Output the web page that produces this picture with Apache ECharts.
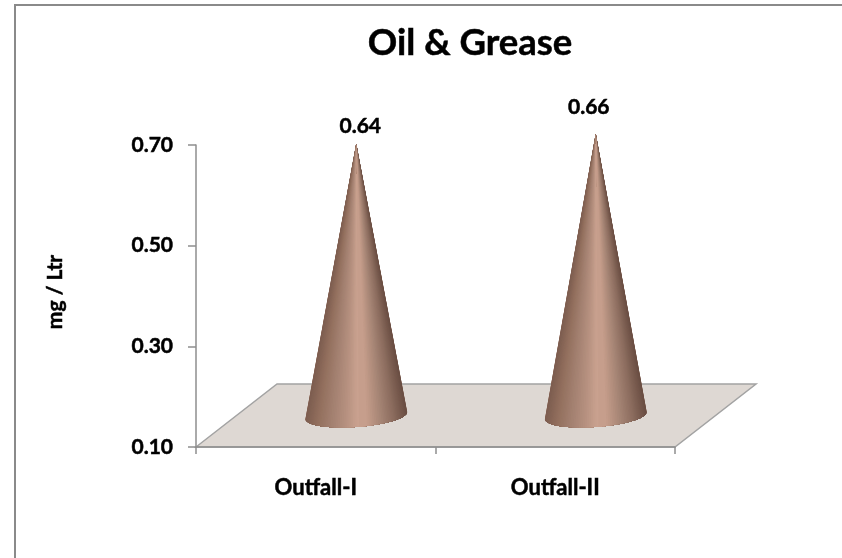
<!DOCTYPE html>
<html>
<head>
<meta charset="utf-8">
<title>Oil & Grease</title>
<style>
    html, body { margin: 0; padding: 0; background: #fff; }
    #chart { width: 842px; height: 558px; }
</style>
<script src="https://cdn.jsdelivr.net/npm/echarts@6/dist/echarts.min.js"></script>
</head>
<body>
<div id="chart"></div>
<script>
// Chart data
const categories = ['Outfall-I', 'Outfall-II'];
const values = [0.64, 0.66];
const yMin = 0.1;
const yMax = 0.7;
const yStep = 0.2;

// Fake 3D look: the floor runs back by (depthX, depthY), bars stand halfway along it
const depthX = 81;
const depthY = -63;
const coneRx = 51;
const coneRy = 11.5;
const coneTilt = -4.1 * Math.PI / 180;
const labelShift = [[4, -17], [-7, -26]];
const fontFamily = 'Lato, Carlito, "Open Sans", sans-serif';
const axisColor = '#8e8e8e';

// Left to right shading across the cone
const shadeStops = ['#7d5d50', '#94715f', '#a38171', '#b48f7e', '#c9a18f', '#c39b89', '#a68575', '#8b6c5e', '#6a4e43'];
const highlightAt = 0.55;

const renderFloor = (params, api) => {
    const box = params.coordSys;
    const bottom = box.y + box.height;
    return {
        type: 'polygon',
        shape: {
            points: [
                [box.x, bottom],
                [box.x + depthX, bottom + depthY],
                [box.x + box.width + depthX, bottom + depthY],
                [box.x + box.width, bottom]
            ]
        },
        style: { fill: '#ded8d3', stroke: '#a3a3a3', lineWidth: 1.5 },
        silent: true
    };
};

const renderCone = (params, api) => {
    const index = api.value(0);
    const base = api.coord([index, yMin]);
    const top = api.coord([index, api.value(1)]);
    const cx = base[0] + depthX / 2;
    const cy = base[1] + depthY / 2;
    const tip = [cx, top[1] + depthY / 2];
    const cosT = Math.cos(coneTilt);
    const sinT = Math.sin(coneTilt);

    // Front rim of the base, left to right
    const steps = 80;
    const rim = [];
    for (let i = 0; i <= steps; i++) {
        const a = Math.PI - Math.PI * i / steps;
        const ex = coneRx * Math.cos(a);
        const ey = coneRy * Math.sin(a);
        rim.push([cx + ex * cosT - ey * sinT, cy + ex * sinT + ey * cosT]);
    }
    const shadeAt = (point) => {
        const t = (point[0] - (cx - coneRx)) / (2 * coneRx);
        return echarts.color.lerp(Math.min(1, Math.max(0, t)), shadeStops);
    };
    let h = 0;
    while (h < steps && (rim[h][0] - (cx - coneRx)) / (2 * coneRx) < highlightAt) h++;

    // Painted from both edges in to the highlight, so the slices leave no seams
    const children = [];
    const addSlice = (from, to, color) => {
        children.push({
            type: 'polygon',
            shape: { points: [tip].concat(rim.slice(from, to + 1)) },
            style: { fill: color },
            silent: true
        });
    };
    addSlice(0, steps, shadeAt(rim[h]));
    for (let i = 0; i < h - 1; i++) addSlice(i, h, shadeAt(rim[i]));
    for (let j = steps; j > h + 1; j--) addSlice(h, j, shadeAt(rim[j]));
    // Last wedge hides the edge where all the slices meet
    addSlice(h - 2, h + 2, shadeAt(rim[h]));

    const shift = labelShift[index];
    children.push({
        type: 'text',
        style: {
            text: api.value(1).toFixed(2),
            x: tip[0] + shift[0],
            y: tip[1] + shift[1],
            align: 'center',
            verticalAlign: 'middle',
            fill: '#000',
            stroke: '#000',
            lineWidth: 0.5,
            font: 'bold 21px ' + fontFamily
        },
        silent: true
    });
    return { type: 'group', children: children };
};

const chart = echarts.init(document.getElementById('chart'));

chart.setOption({
    animation: false,
    backgroundColor: '#fff',
    title: {
        text: 'Oil & Grease',
        left: 465,
        top: 20,
        textAlign: 'center',
        textStyle: {
            fontFamily: fontFamily, fontSize: 36.5, fontWeight: 'bold', color: '#000',
            textBorderColor: '#000', textBorderWidth: 0.5
        }
    },
    graphic: [
        {
            type: 'polyline',
            shape: { points: [[15, 558], [15, 5], [842, 5]] },
            style: { fill: null, stroke: '#8a8a8a', lineWidth: 2 },
            silent: true
        },
        {
            // y axis title
            type: 'text',
            x: 55,
            y: 292,
            rotation: Math.PI / 2,
            style: {
                text: 'mg / Ltr',
                align: 'center',
                verticalAlign: 'middle',
                fill: '#000',
                stroke: '#000',
                lineWidth: 0.5,
                font: 'bold 21px ' + fontFamily
            },
            silent: true
        }
    ],
    grid: { left: 196, right: 167, top: 145, bottom: 111 },
    xAxis: {
        type: 'category',
        data: categories,
        z: 3,
        axisLine: { lineStyle: { color: axisColor, width: 1.5 } },
        axisTick: { show: true, alignWithLabel: false, length: 7, lineStyle: { color: axisColor, width: 1.5 } },
        axisLabel: {
            margin: 30, color: '#000', fontFamily: fontFamily, fontSize: 22, fontWeight: 'bold',
            textBorderColor: '#000', textBorderWidth: 0.5
        }
    },
    yAxis: {
        type: 'value',
        min: yMin,
        max: yMax,
        interval: yStep,
        z: 3,
        splitLine: { show: false },
        axisLine: { show: true, lineStyle: { color: axisColor, width: 1.5 } },
        axisTick: { show: true, length: 8, lineStyle: { color: axisColor, width: 1.5 } },
        axisLabel: {
            margin: 23,
            color: '#000',
            fontFamily: fontFamily,
            fontSize: 21,
            fontWeight: 'bold',
            textBorderColor: '#000',
            textBorderWidth: 0.5,
            formatter: (value) => value.toFixed(2)
        }
    },
    series: [
        {
            type: 'custom',
            renderItem: renderFloor,
            data: [[0, yMin]],
            z: 1,
            clip: false
        },
        {
            type: 'custom',
            renderItem: renderCone,
            data: values.map((value, index) => [index, value]),
            encode: { x: 0, y: 1 },
            z: 2,
            clip: false
        }
    ]
});
</script>
</body>
</html>
